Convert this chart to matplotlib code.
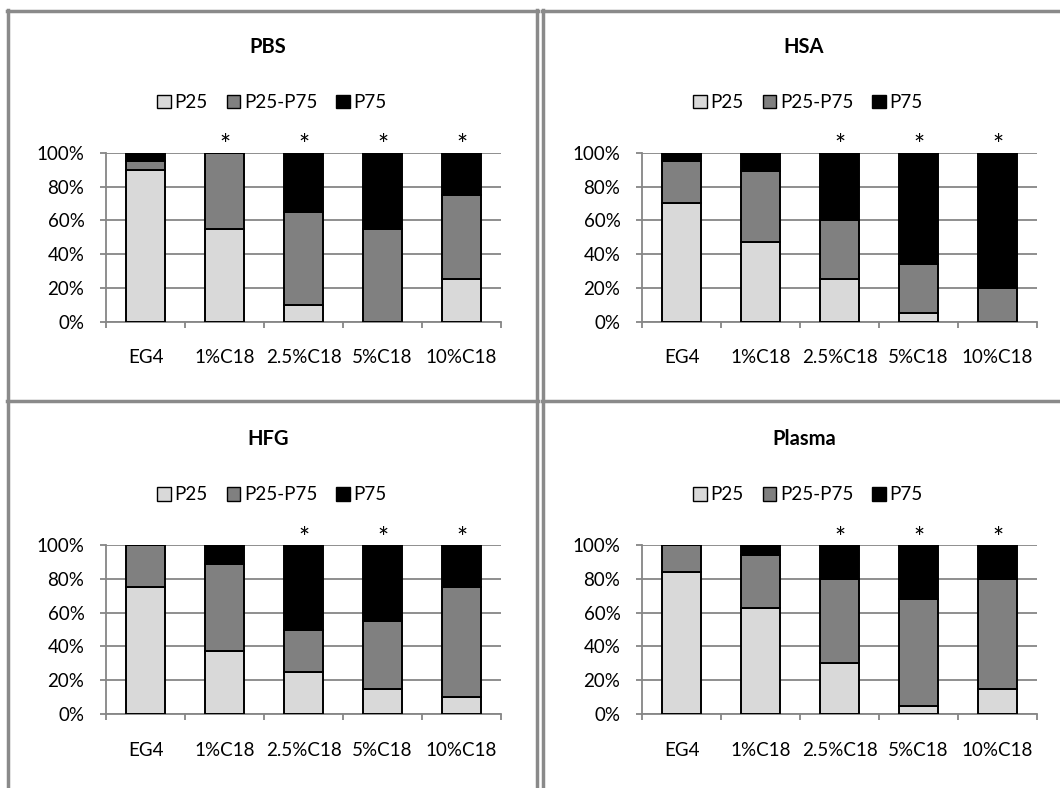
import numpy as np
import matplotlib.pyplot as plt
from matplotlib.lines import Line2D
from matplotlib.ticker import FuncFormatter

plt.rcParams['font.family'] = ['Lato', 'DejaVu Sans']

categories = ['EG4', '1%C18', '2.5%C18', '5%C18', '10%C18']
series = ['P25', 'P25-P75', 'P75']
colors = ['#d9d9d9', '#808080', '#000000']

# percentages per category, bottom to top
pbs_p25 = [90, 55, 10, 0, 25]
pbs_mid = [5, 45, 55, 55, 50]
pbs_p75 = [5, 0, 35, 45, 25]
pbs_star = [0, 1, 1, 1, 1]

hsa_p25 = [70, 47, 25, 5, 0]
hsa_mid = [25, 42, 35, 29, 20]
hsa_p75 = [5, 11, 40, 66, 80]
hsa_star = [0, 0, 1, 1, 1]

hfg_p25 = [75, 37, 25, 15, 10]
hfg_mid = [25, 52, 25, 40, 65]
hfg_p75 = [0, 11, 50, 45, 25]
hfg_star = [0, 0, 1, 1, 1]

plasma_p25 = [84, 63, 30, 5, 15]
plasma_mid = [16, 31, 50, 63, 65]
plasma_p75 = [0, 6, 20, 32, 20]
plasma_star = [0, 0, 1, 1, 1]

W, H = 1060, 788
fig = plt.figure(figsize=(W / 100, H / 100), dpi=100)
GRAY = '#868686'
FS = 13.5


def panel(left_px, top_px, title, p25, mid, p75, star):
    ax = fig.add_axes([left_px / W, 1 - (top_px + 169) / H, 395 / W, 169 / H])
    x = np.arange(len(categories))
    bottom = np.zeros(len(categories))
    for vals, name, c in zip([p25, mid, p75], series, colors):
        ax.bar(x, vals, width=0.5, bottom=bottom, color=c, edgecolor='black',
               linewidth=1.4, label=name, zorder=3)
        bottom = bottom + np.array(vals)

    ax.set_xlim(-0.5, len(categories) - 0.5)
    ax.set_ylim(0, 100)
    ax.set_yticks(np.arange(0, 101, 20))
    ax.yaxis.set_major_formatter(FuncFormatter(lambda v, p: '%d%%' % v))
    ax.grid(axis='y', color=GRAY, linewidth=1.3, zorder=0)
    ax.set_axisbelow(True)

    ax.set_xticks(np.arange(len(categories) + 1) - 0.5)
    ax.set_xticklabels([])
    ax.set_xticks(x, minor=True)
    ax.set_xticklabels(categories, minor=True)
    ax.tick_params(axis='x', which='major', length=4.5, width=1.3, color=GRAY)
    ax.tick_params(axis='x', which='minor', length=0, pad=20, labelsize=FS)
    ax.tick_params(axis='y', length=4.5, width=1.3, color=GRAY, pad=11, labelsize=FS)

    for s in ['top', 'right']:
        ax.spines[s].set_visible(False)
    for s in ['left', 'bottom']:
        ax.spines[s].set_color(GRAY)
        ax.spines[s].set_linewidth(1.3)

    for i, flag in enumerate(star):
        if flag:
            ax.text(i, 103.5, '*', ha='center', va='center', fontsize=19, clip_on=False)

    cx = left_px + 162
    fig.text(cx / W, 1 - (top_px - 106) / H, title, ha='center', va='center',
             fontsize=14.5, fontweight='bold')
    ax.legend(loc='center', bbox_to_anchor=((cx + 4) / W, 1 - (top_px - 50) / H),
              bbox_transform=fig.transFigure, ncol=3, frameon=False, fontsize=FS,
              handlelength=0.72, handleheight=0.72, handletextpad=0.2,
              columnspacing=1.0)
    for h in ax.get_legend().legend_handles:
        h.set_linewidth(1.0)
    return ax


panel(106, 152.7, 'PBS', pbs_p25, pbs_mid, pbs_p75, pbs_star)
panel(642, 152.7, 'HSA', hsa_p25, hsa_mid, hsa_p75, hsa_star)
panel(106, 545, 'HFG', hfg_p25, hfg_mid, hfg_p75, hfg_star)
panel(642, 545, 'Plasma', plasma_p25, plasma_mid, plasma_p75, plasma_star)

# panel frames
def hline(y, x0, x1):
    fig.add_artist(Line2D([x0 / W, x1 / W], [1 - y / H, 1 - y / H], color='#8a8a8a', linewidth=2.5))

def vline(x, y0, y1):
    fig.add_artist(Line2D([x / W, x / W], [1 - y0 / H, 1 - y1 / H], color='#8a8a8a', linewidth=2.5))

vline(8, 10, 788)
vline(536.5, 10, 788)
vline(542.5, 10, 788)
hline(11, 7, 537.5)
hline(11, 541.5, 1060)
hline(401, 7, 537.5)
hline(401, 541.5, 1060)

fig.savefig('out.png', dpi=100)
